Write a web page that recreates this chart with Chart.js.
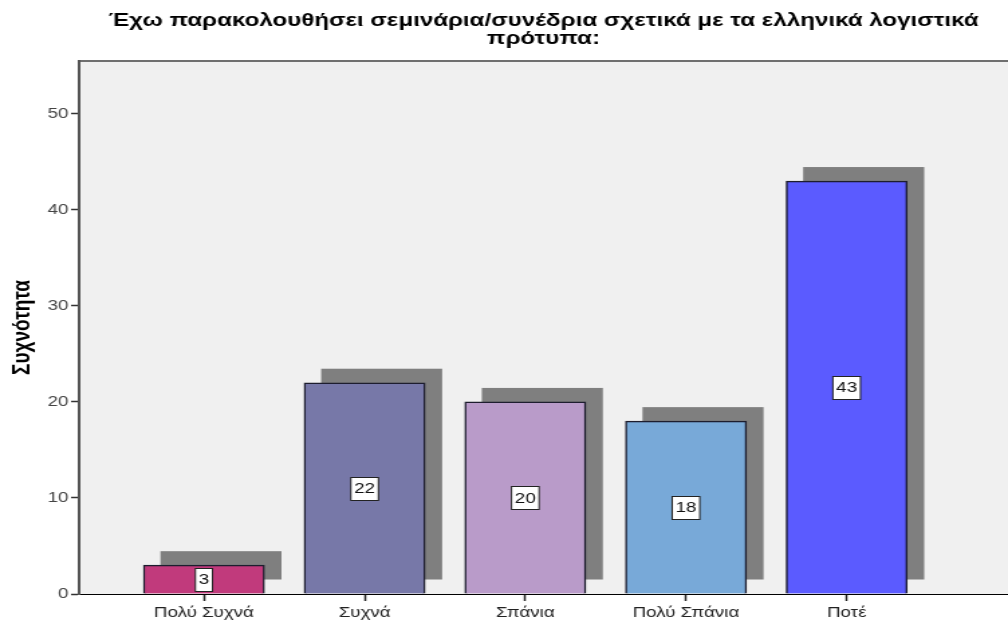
<!DOCTYPE html>
<html>
<head>
<meta charset="utf-8">
<script src="https://cdn.jsdelivr.net/npm/chart.js@4.4.1/dist/chart.umd.min.js"></script>
<style>
  html, body { margin: 0; padding: 0; background: #fff; overflow: hidden; }
  /* the chart is laid out narrow and widened to the page width */
  #freqChart { transform: scaleX(1.3404); transform-origin: 0 0; }
</style>
</head>
<body>
<canvas id="freqChart" width="752" height="622"></canvas>
<script>
const categories = ["Πολύ Συχνά", "Συχνά", "Σπάνια", "Πολύ Σπάνια", "Ποτέ"];
const counts = [3, 22, 20, 18, 43];
const barColors = ["#c13a7c", "#7778a8", "#b99bc9", "#78a9d8", "#5b5bff"];
const yTicks = [0, 10, 20, 30, 40, 50];
const titleLines = ["Έχω παρακολουθήσει σεμινάρια/συνέδρια σχετικά με τα ελληνικά λογιστικά", "πρότυπα:"];
const yTitle = "Συχνότητα";

// grey plot background + top frame line
const plotBackground = {
    id: "plotBackground",
    beforeDraw(chart) {
        const { ctx, chartArea: a } = chart;
        ctx.save();
        ctx.fillStyle = "#f0f0f0";
        ctx.fillRect(a.left, a.top, a.right - a.left, a.bottom - a.top);
        ctx.strokeStyle = "#6f6f6f";
        ctx.lineWidth = 2;
        ctx.beginPath();
        ctx.moveTo(a.left, a.top);
        ctx.lineTo(a.right, a.top);
        ctx.stroke();
        ctx.restore();
    }
};

// offset grey "3D" shadow behind every bar
const barShadows = {
    id: "barShadows",
    beforeDatasetsDraw(chart) {
        const { ctx } = chart;
        ctx.save();
        ctx.fillStyle = "#7f7f7f";
        chart.getDatasetMeta(0).data.forEach(bar => {
            const { x, y, base, width } = bar.getProps(["x", "y", "base", "width"], true);
            ctx.fillRect(x - width / 2 + 12.7, y - 14, width, base - y);
        });
        ctx.restore();
    }
};

// boxed count in the middle of each bar
const valueBoxes = {
    id: "valueBoxes",
    afterDatasetsDraw(chart) {
        const { ctx } = chart;
        const points = chart.data.datasets[0].data;
        ctx.save();
        ctx.font = "14px 'Liberation Sans'";
        ctx.textAlign = "center";
        ctx.textBaseline = "middle";
        chart.getDatasetMeta(0).data.forEach((bar, i) => {
            const { x, y, base } = bar.getProps(["x", "y", "base"], true);
            const cy = (y + base) / 2;
            const text = String(points[i].y);
            const w = ctx.measureText(text).width + 5;
            const h = 23;
            const bx = x - w / 2;
            const by = Math.round(cy - h / 2) + 0.5;
            ctx.fillStyle = "#ffffff";
            ctx.fillRect(bx, by, w, h);
            ctx.strokeStyle = "#222";
            ctx.lineWidth = 1;
            ctx.strokeRect(bx, by, w, h);
            ctx.fillStyle = "#111";
            ctx.fillText(text, x, cy + 1);
        });
        ctx.restore();
    }
};

new Chart(document.getElementById("freqChart"), {
    type: "bar",
    data: {
        datasets: [{
            data: counts.map((v, i) => ({ x: i, y: v })),
            backgroundColor: barColors,
            borderColor: "#1d1d2e",
            borderWidth: 1.5,
            barThickness: 90.3
        }]
    },
    options: {
        responsive: false,
        animation: false,
        devicePixelRatio: 1,
        layout: { padding: 0 },
        plugins: {
            legend: { display: false },
            tooltip: { enabled: false },
            title: {
                display: true,
                text: titleLines,
                fullSize: false,
                color: "#000",
                font: { family: "'Liberation Sans', Arial", size: 18, weight: "bold", lineHeight: 1.0 },
                padding: { top: 12, bottom: 13 }
            }
        },
        scales: {
            x: {
                type: "linear",
                offset: false,
                min: -0.777,
                max: 5.004,
                afterFit(s) { s.height = 28; },
                afterBuildTicks(s) { s.ticks = categories.map((c, i) => ({ value: i })); },
                ticks: {
                    callback: v => categories[v],
                    color: "#222",
                    font: { family: "'Liberation Sans', Arial", size: 14 },
                    padding: 4,
                    autoSkip: false,
                    maxRotation: 0
                },
                grid: { offset: false, drawOnChartArea: false, drawTicks: true, tickLength: 7, tickColor: "#222", tickWidth: 1.5 },
                border: { color: "#000", width: 1 }
            },
            y: {
                min: 0,
                max: 55.5,
                afterFit(s) { s.width = 59; },
                afterBuildTicks(s) { s.ticks = yTicks.map(v => ({ value: v })); },
                ticks: {
                    color: "#444",
                    font: { family: "'Liberation Sans', Arial", size: 14 },
                    padding: 2
                },
                grid: { drawOnChartArea: false, drawTicks: true, tickLength: 6, tickColor: "#333", tickWidth: 1.5 },
                border: { color: "#555", width: 2 },
                title: {
                    display: true,
                    text: yTitle,
                    color: "#000",
                    font: { family: "'Liberation Sans', Arial", size: 19, weight: "bold" },
                    padding: { top: 5, bottom: 0 }
                }
            }
        }
    },
    plugins: [plotBackground, barShadows, valueBoxes]
});
</script>
</body>
</html>
